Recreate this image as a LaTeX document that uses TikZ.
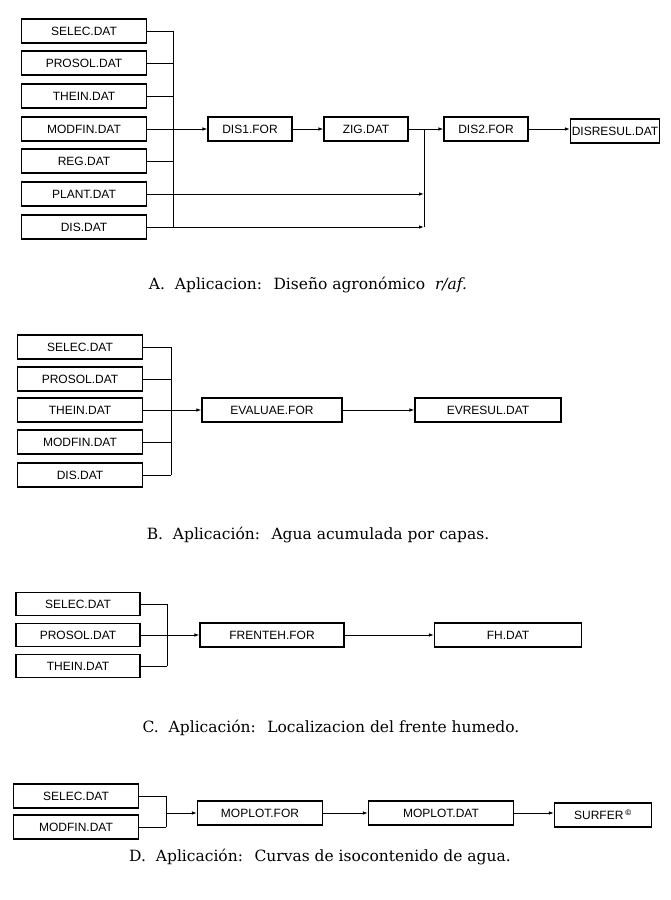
\documentclass[tikz,border=0pt]{standalone}
\usepackage{fontspec}
\setmainfont{DejaVu Serif}
\setsansfont{Liberation Sans}
\usetikzlibrary{arrows.meta, positioning}
\tikzset{
  file/.style={draw, line width=1.1pt, minimum height=24pt, inner sep=0pt,
    font=\sffamily\fontsize{12}{14}\selectfont},
  inbox/.style={file, minimum width=125pt},
  arr/.style={-{Latex[length=5pt,width=3.5pt]}},
  caption/.style={font=\fontsize{15.5}{18}\selectfont}
}

\begin{document}
\begin{tikzpicture}[x=1pt,y=-1pt,line width=0.9pt]
      \useasboundingbox (0,0) rectangle (671,900);
      % A
      \node[inbox] (aselec) at (84,31) {SELEC.DAT};
      \node[inbox] (aprosol) at (84,63) {PROSOL.DAT};
      \node[inbox] (athein) at (84,96) {THEIN.DAT};
      \node[inbox] (amodfin) at (84,129) {MODFIN.DAT};
      \node[inbox] (areg) at (84,161) {REG.DAT};
      \node[inbox] (aplant) at (84,194) {PLANT.DAT};
      \node[inbox] (adis) at (84,227) {DIS.DAT};
      \node[file, minimum width=84pt] (adisfor) at (250,129) {DIS1.FOR};
      \node[file, minimum width=84pt] (azig) at (366,129) {ZIG.DAT};
      \node[file, minimum width=84pt] (adistwo) at (486,129) {DIS2.FOR};
      \node[file, minimum width=89pt] (adisresul) at (615,131) {DISRESUL.DAT};
      \coordinate (abus) at (173,0);
      \coordinate (abustwo) at (424,0);
      \foreach \n in {aselec,aprosol,athein,areg}
        \draw (\n.east) -- (\n.east -| abus);
      \draw (aselec.east -| abus) -- (adis.east -| abus);
      \draw[arr] (amodfin.east) -- (adisfor.west);
      \draw[arr] (adisfor.east) -- (azig.west);
      \draw[arr] (azig.east) -- (adistwo.west);
      \draw[arr] (adistwo.east) -- (adisresul.west |- adistwo.east);
      \draw[arr] (aplant.east) -- (aplant.east -| abustwo);
      \draw[arr] (adis.east) -- (adis.east -| abustwo);
      \draw (adis.east -| abustwo) -- (azig.east -| abustwo);
      \node[caption] (acap) at (308,285) {A.~ Aplicacion:~ Diseño agronómico~ \textit{r/af.}};
      % B
      \node[inbox] (bselec) at (80,347) {SELEC.DAT};
      \node[inbox] (bprosol) at (80,379) {PROSOL.DAT};
      \node[inbox] (bthein) at (80,410) {THEIN.DAT};
      \node[inbox] (bmodfin) at (80,442) {MODFIN.DAT};
      \node[inbox] (bdis) at (80,475) {DIS.DAT};
      \node[file, minimum width=140pt] (bevaluae) at (272,410) {EVALUAE.FOR};
      \node[file, minimum width=146pt] (bevresul) at (488,410) {EVRESUL.DAT};
      \coordinate (bbus) at (171,0);
      \foreach \n in {bselec,bprosol,bmodfin,bdis}
        \draw (\n.east) -- (\n.east -| bbus);
      \draw (bselec.east -| bbus) -- (bdis.east -| bbus);
      \draw[arr] (bthein.east) -- (bevaluae.west);
      \draw[arr] (bevaluae.east) -- (bevresul.west);
      \node[caption] (bcap) at (318,535) {B.~ Aplicación:~ Agua acumulada por capas.};
      % C
      \node[inbox, minimum width=124pt, minimum height=23pt] (cselec) at (78,604) {SELEC.DAT};
      \node[inbox, minimum width=124pt, minimum height=23pt] (cprosol) at (78,635) {PROSOL.DAT};
      \node[inbox, minimum width=124pt, minimum height=23pt] (cthein) at (78,666) {THEIN.DAT};
      \node[file, minimum width=144pt] (cfrenteh) at (272,635) {FRENTEH.FOR};
      \node[file, minimum width=147pt] (cfh) at (508,635) {FH.DAT};
      \coordinate (cbus) at (167,0);
      \foreach \n in {cselec,cthein}
        \draw (\n.east) -- (\n.east -| cbus);
      \draw (cselec.east -| cbus) -- (cthein.east -| cbus);
      \draw[arr] (cprosol.east) -- (cfrenteh.west);
      \draw[arr] (cfrenteh.east) -- (cfh.west);
      \node[caption] (ccap) at (331,728) {C.~ Aplicación:~ Localizacion del frente humedo.};
      % D
      \node[inbox] (dselec) at (76,796) {SELEC.DAT};
      \node[inbox] (dmodfin) at (76,827) {MODFIN.DAT};
      \node[file, minimum width=125pt] (dmoplotfor) at (260,813) {MOPLOT.FOR};
      \node[file, minimum width=145pt] (dmoplotdat) at (441,813) {MOPLOT.DAT};
      \node[file, minimum width=97pt] (dsurfer) at (603,815) {SURFER\,\textsuperscript{\bfseries ©}};
      \coordinate (dbus) at (166,0);
      \coordinate (dmid) at (166,813);
      \foreach \n in {dselec,dmodfin}
        \draw (\n.east) -- (\n.east -| dbus);
      \draw (dselec.east -| dbus) -- (dmodfin.east -| dbus);
      \draw[arr] (dmid) -- (dmoplotfor.west);
      \draw[arr] (dmoplotfor.east) -- (dmoplotdat.west);
      \draw[arr] (dmoplotdat.east) -- (dsurfer.west |- dmoplotdat.east);
      \node[caption] (dcap) at (320,857) {D.~ Aplicación:~ Curvas de isocontenido de agua.};
\end{tikzpicture}
\end{document}
